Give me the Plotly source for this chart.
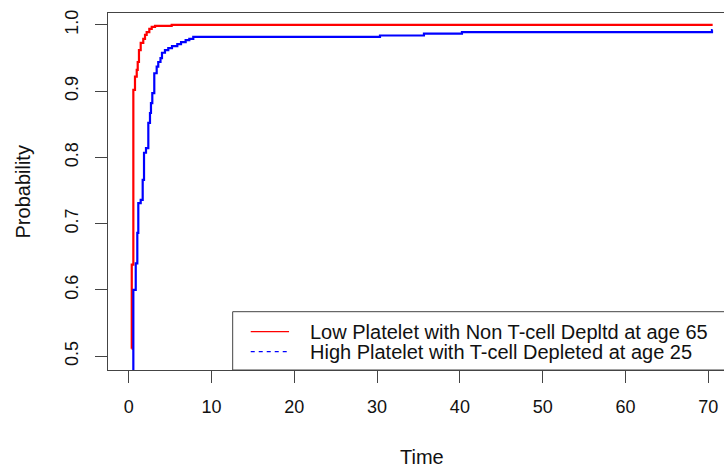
import plotly.graph_objects as go

# ---- data ----
red_time = [0.36, 0.37, 0.56, 0.76, 0.97, 1.09, 1.24, 1.45, 1.76, 1.97, 2.17, 2.49, 2.78, 3.18, 5.19, 70.53]
red_prob = [0.511, 0.638, 0.902, 0.922, 0.932, 0.944, 0.962, 0.973, 0.979, 0.985, 0.989, 0.994, 0.997, 0.9985, 1.0, 1.0]

blue_time = [0.54, 0.56, 0.85, 1.04, 1.16, 1.45, 1.69, 1.85, 2.09, 2.37, 2.57, 2.69, 2.85, 3.09, 3.38, 3.57,
             3.84, 4.02, 4.38, 4.78, 5.23, 5.87, 6.32, 6.88, 7.32, 7.80, 30.35, 35.66, 40.25, 70.45, 70.53]
blue_prob = [0.45, 0.600, 0.640, 0.686, 0.731, 0.736, 0.766, 0.807, 0.814, 0.852, 0.867, 0.882, 0.897, 0.927,
             0.937, 0.944, 0.950, 0.958, 0.962, 0.965, 0.968, 0.971, 0.974, 0.977, 0.979, 0.982, 0.984, 0.987,
             0.989, 0.992, 0.992]

series_names = ["Low Platelet with Non T-cell Depltd at age 65",
                "High Platelet with T-cell Depleted at age 25"]
series_colors = ["#FF0000", "#0000FF"]
legend_dash = ["solid", "4px,4px"]

x_ticks = [0, 10, 20, 30, 40, 50, 60, 70]
y_ticks = [0.5, 0.6, 0.7, 0.8, 0.9, 1.0]
y_tick_text = ["0.5", "0.6", "0.7", "0.8", "0.9", "1.0"]

FONT = "Arial, Liberation Sans, sans-serif"
FS_TICK = 18
FS_TEXT = 20
AXC = "#444444"
TXT = "#111111"

fig = go.Figure()
fig.add_trace(go.Scatter(x=red_time, y=red_prob, mode="lines", line_shape="hv",
                         line=dict(color=series_colors[0], width=2.2), name=series_names[0], showlegend=False))
fig.add_trace(go.Scatter(x=blue_time, y=blue_prob, mode="lines", line_shape="hv",
                         line=dict(color=series_colors[1], width=2.2), name=series_names[1], showlegend=False))

# manual legend (R style, bottom-right, cropped on the right)
lx0, ly_top = 0.2024, 0.1633
fig.add_shape(type="rect", xref="paper", yref="paper", x0=lx0, x1=1.05, y0=0, y1=ly_top,
              line=dict(color=AXC, width=1), fillcolor="white", layer="above")
legend_y = [0.1073, 0.0513]
for i in range(2):
    fig.add_shape(type="line", xref="paper", yref="paper", x0=0.2317, x1=0.2939,
                  y0=legend_y[i], y1=legend_y[i],
                  line=dict(color=series_colors[i], width=1.2, dash=legend_dash[i]), layer="above")
    fig.add_annotation(xref="paper", yref="paper", x=0.3242, y=legend_y[i], text=series_names[i],
                       showarrow=False, xanchor="left", yanchor="middle",
                       font=dict(family=FONT, size=FS_TEXT, color=TXT))

# axis titles
fig.add_annotation(xref="paper", yref="paper", x=0.509, y=-0.2437, text="Time", showarrow=False,
                   xanchor="center", yanchor="middle", font=dict(family=FONT, size=FS_TEXT, color=TXT))
fig.add_annotation(xref="paper", yref="paper", x=-0.138, y=0.5, text="Probability", showarrow=False,
                   textangle=-90, xanchor="center", yanchor="middle",
                   font=dict(family=FONT, size=FS_TEXT, color=TXT))

fig.update_layout(
    width=724, height=467,
    margin=dict(l=108, r=0, t=13, b=97, pad=0),
    paper_bgcolor="white", plot_bgcolor="white",
    font=dict(family=FONT, size=FS_TICK, color=TXT),
    showlegend=False,
)
fig.update_xaxes(range=[-2.5, 71.9], tickvals=x_ticks, ticks="outside", ticklen=12, tickcolor=AXC,
                 tickwidth=1, showgrid=False, zeroline=False, showline=True, linecolor=AXC, linewidth=1,
                 mirror=True, ticklabelstandoff=8, tickfont=dict(family=FONT, size=FS_TICK, color=TXT))
fig.update_yaxes(range=[0.479, 1.018], tickvals=y_ticks, ticktext=y_tick_text, ticks="outside", ticklen=12,
                 tickcolor=AXC, tickwidth=1, showgrid=False, zeroline=False, showline=True, linecolor=AXC,
                 linewidth=1, tickangle=-90, ticklabelstandoff=10,
                 tickfont=dict(family=FONT, size=FS_TICK, color=TXT))

fig.write_html("out.html")
